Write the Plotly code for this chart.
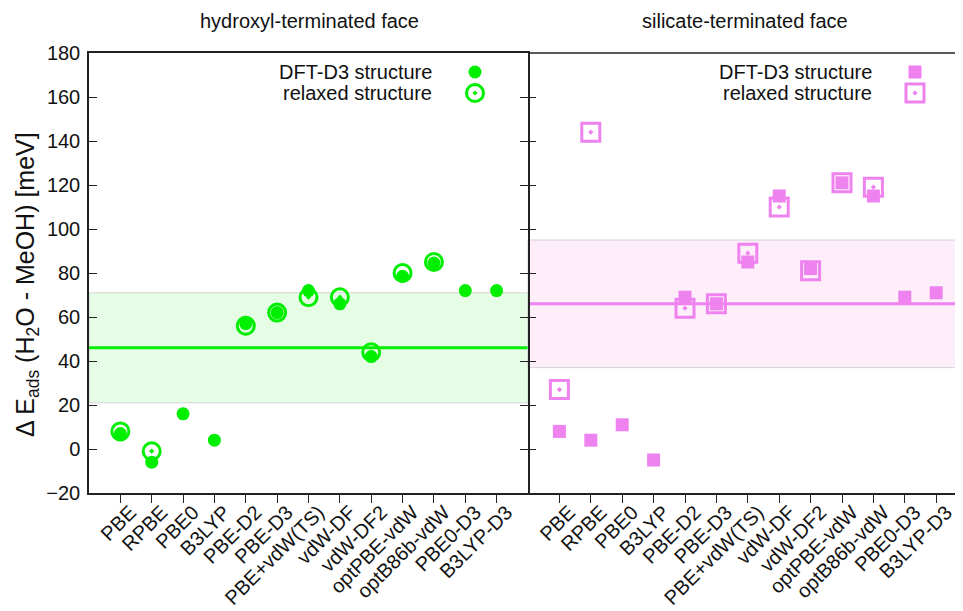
import plotly.graph_objects as go

methods = ["PBE", "RPBE", "PBE0", "B3LYP", "PBE-D2", "PBE-D3", "PBE+vdW(TS)",
           "vdW-DF", "vdW-DF2", "optPBE-vdW", "optB86b-vdW", "PBE0-D3", "B3LYP-D3"]

# hydroxyl-terminated face
hyd_d3 = [7, -6, 16, 4, 57, 62, 72, 66, 42, 78.5, 84.5, 72, 72]
hyd_relaxed = [8, -1, None, None, 56, 62, 69, 69, 44, 80, 85, None, None]
hyd_mean = 46
hyd_band = [21, 71]

# silicate-terminated face
sil_d3 = [8, 4, 11, -5, 69, 66, 85, 115, 82, 121, 115, 69, 71]
sil_relaxed = [27, 144, None, None, 64, 66, 89, 110, 81, 121, 119, None, None]
sil_mean = 66
sil_band = [37, 95]

panel_titles = ["hydroxyl-terminated face", "silicate-terminated face"]
legend_labels = ["DFT-D3 structure", "relaxed structure"]

GREEN = "#00ee00"
VIOLET = "#ee82ee"
FONT = "Liberation Sans, Arial, sans-serif"
FS = 20

OFF = 8  # page body margin
SCREEN_W, SCREEN_H = 963, 611
W, H = SCREEN_W - OFF, SCREEN_H - OFF
PL, PR, PT, PB = 89, 963, 53, 493  # plot area in screen pixels
L, R, T, B = PL - OFF, SCREEN_W - PR, PT - OFF, SCREEN_H - PB
pw = W - L - R
ph = H - T - B
split = (528 - PL) / pw


def px_x(p):
    return (p - PL) / pw


def px_y(p):
    return (PB - p) / ph


fig = go.Figure()

# relaxed (open) then DFT-D3 (filled) on top
fig.add_trace(go.Scatter(x=methods, y=hyd_relaxed, mode="markers", xaxis="x", yaxis="y",
                         marker=dict(symbol="circle-open-dot", size=17, color=GREEN,
                                     line=dict(width=3, color=GREEN)), showlegend=False))
fig.add_trace(go.Scatter(x=methods, y=hyd_d3, mode="markers", xaxis="x", yaxis="y",
                         marker=dict(symbol="circle", size=13, color=GREEN, line=dict(width=0)),
                         showlegend=False))
fig.add_trace(go.Scatter(x=methods, y=sil_relaxed, mode="markers", xaxis="x2", yaxis="y2",
                         marker=dict(symbol="square-open-dot", size=18, color=VIOLET,
                                     line=dict(width=3, color=VIOLET)), showlegend=False))
fig.add_trace(go.Scatter(x=methods, y=sil_d3, mode="markers", xaxis="x2", yaxis="y2",
                         marker=dict(symbol="square", size=13, color=VIOLET, line=dict(width=0)),
                         showlegend=False))

# legend keys on a full-area hidden axis pair
leg_y = [px_y(72), px_y(93)]
leg_x_left = px_x(475)
leg_x_right = px_x(915)
fig.add_trace(go.Scatter(x=[leg_x_left], y=[leg_y[0]], mode="markers", xaxis="x3", yaxis="y3",
                         marker=dict(symbol="circle", size=13, color=GREEN), showlegend=False))
fig.add_trace(go.Scatter(x=[leg_x_left], y=[leg_y[1]], mode="markers", xaxis="x3", yaxis="y3",
                         marker=dict(symbol="circle-open-dot", size=17, color=GREEN,
                                     line=dict(width=3, color=GREEN)), showlegend=False))
fig.add_trace(go.Scatter(x=[leg_x_right], y=[leg_y[0]], mode="markers", xaxis="x3", yaxis="y3",
                         marker=dict(symbol="square", size=13, color=VIOLET), showlegend=False))
fig.add_trace(go.Scatter(x=[leg_x_right], y=[leg_y[1]], mode="markers", xaxis="x3", yaxis="y3",
                         marker=dict(symbol="square-open-dot", size=18, color=VIOLET,
                                     line=dict(width=3, color=VIOLET)), showlegend=False))

shapes = []
for xr, yr, band, mean, fill, col in [("x", "y", hyd_band, hyd_mean, "#e4fde4", GREEN),
                                      ("x2", "y2", sil_band, sil_mean, "#fdeefa", VIOLET)]:
    shapes.append(dict(type="rect", xref=xr + " domain", yref=yr, x0=0, x1=1, y0=band[0], y1=band[1],
                       fillcolor=fill, line=dict(color="#d4d4d4", width=1), layer="below"))
    shapes.append(dict(type="line", xref=xr + " domain", yref=yr, x0=0, x1=1, y0=mean, y1=mean,
                       line=dict(color=col, width=3), layer="below"))
# top frame line across the right panel
shapes.append(dict(type="line", xref="x2 domain", yref="y2 domain", x0=0, x1=1, y0=1, y1=1,
                   line=dict(color="#222222", width=1.5)))

annotations = []
for title, cx in zip(panel_titles, [px_x(309), px_x(745)]):
    annotations.append(dict(text=title, x=cx, y=px_y(21), xref="paper", yref="paper",
                            showarrow=False, xanchor="center", yanchor="middle",
                            font=dict(size=FS, color="#111111", family=FONT)))
for tx in [px_x(434), px_x(874)]:
    for lab, ly in zip(legend_labels, leg_y):
        annotations.append(dict(text=lab, x=tx, y=ly, xref="paper", yref="paper",
                                showarrow=False, xanchor="right", yanchor="middle",
                                font=dict(size=FS, color="#111111", family=FONT)))
annotations.append(dict(text="Δ E<sub>ads</sub> (H<sub>2</sub>O - MeOH) [meV]",
                        x=px_x(27), y=px_y(285), xref="paper", yref="paper", textangle=-90,
                        showarrow=False, xanchor="center", yanchor="middle",
                        font=dict(size=25, color="#111111", family=FONT)))

axis_common = dict(linecolor="#222222", linewidth=1.5, showgrid=False, automargin=False,
                   zeroline=False, tickfont=dict(size=FS, color="#111111", family=FONT))
xtick_style = dict(ticks="outside", ticklen=8, tickcolor="#222222", tickangle=-45,
                   ticklabelstandoff=-10, ticklabelshift=10)

fig.update_layout(
    width=W, height=H,
    margin=dict(l=L, r=R, t=T, b=B, pad=0, autoexpand=False),
    paper_bgcolor="white", plot_bgcolor="rgba(0,0,0,0)",
    xaxis=dict(domain=[0, split], range=[-1, 13], type="category", anchor="y", showline=True,
               mirror=True, **xtick_style, **axis_common),
    xaxis2=dict(domain=[split, 1], range=[-1, -1 + 435 / 31.4], type="category", anchor="y2",
                showline=True, mirror=False, **xtick_style, **axis_common),
    yaxis=dict(domain=[0, 1], range=[-20, 180], dtick=20, anchor="x", ticks="inside", showline=True,
               ticklen=8, tickcolor="#222222", mirror="ticks", ticklabelstandoff=3, **axis_common),
    yaxis2=dict(domain=[0, 1], range=[-20, 180], dtick=20, anchor="x2", ticks="inside",
                showline=False, ticklen=8, tickcolor="#222222", showticklabels=False,
                mirror=False, **axis_common),
    xaxis3=dict(domain=[0, 1], range=[0, 1], anchor="y3", visible=False, automargin=False),
    yaxis3=dict(domain=[0, 1], range=[0, 1], anchor="x3", visible=False, automargin=False),
    shapes=shapes,
    annotations=annotations,
    showlegend=False,
)

fig.write_html("out.html")
